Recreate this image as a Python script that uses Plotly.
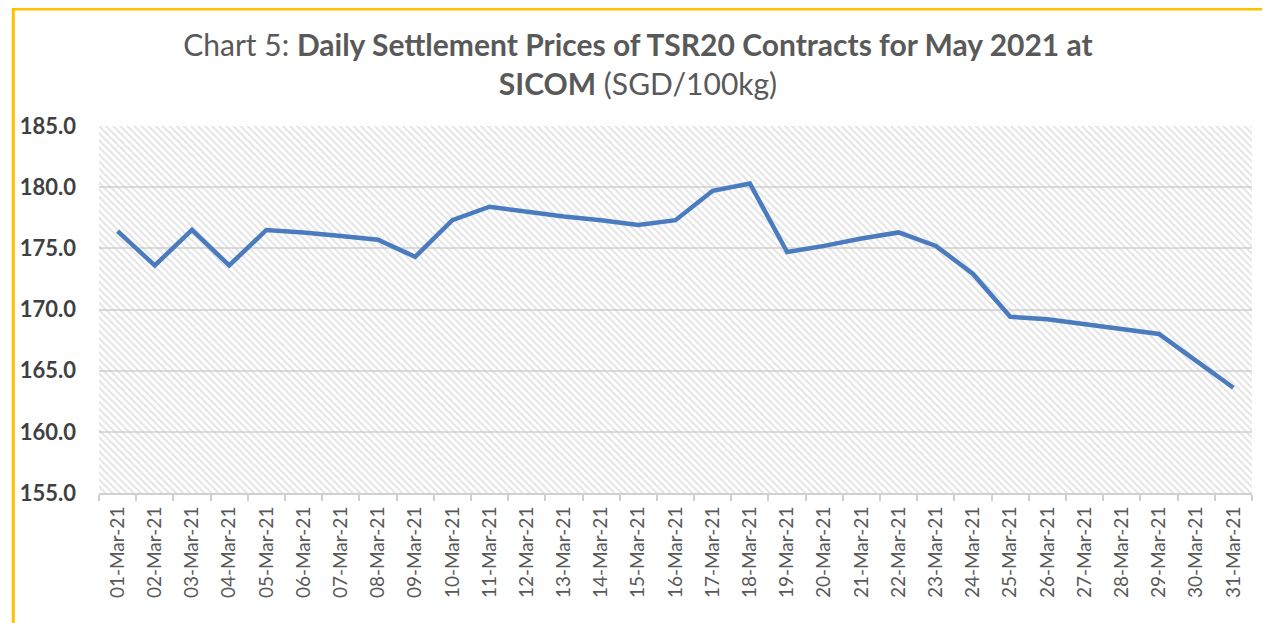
import plotly.graph_objects as go

dates = [f"{d:02d}-Mar-21" for d in range(1, 32)]
prices = [176.4, 173.6, 176.5, 173.6, 176.5, 176.3, 176.0, 175.7, 174.3, 177.3,
          178.4, 178.0, 177.6, 177.3, 176.9, 177.3, 179.7, 180.3, 174.7, 175.2,
          175.8, 176.3, 175.2, 172.9, 169.4, 169.2, 168.8, 168.4, 168.0, 165.8, 163.6]
y_min, y_max, y_step = 155, 185, 5

# page body has an 8px margin: figure is sized/placed to compensate
W, H = 1262, 615
ML, MR, MT, MB = 87, 18, 118, 130
PW, PH = W - ML - MR, H - MT - MB

fig = go.Figure()
# patterned plot-area background
fig.add_trace(go.Bar(
    x=dates, y=[y_max - y_min] * len(dates), base=y_min, width=1,
    marker=dict(color="rgba(0,0,0,0)", line=dict(width=0),
                pattern=dict(shape="\\", fgcolor="#c8c8c8", bgcolor="rgba(0,0,0,0)",
                             size=5, solidity=0.4)),
    hoverinfo="skip", showlegend=False))
fig.add_trace(go.Scatter(
    x=dates, y=prices, mode="lines",
    line=dict(color="#4a7bbf", width=4.5), showlegend=False))

fig.update_layout(
    width=W, height=H,
    margin=dict(l=ML, r=MR, t=MT, b=MB),
    paper_bgcolor="white", plot_bgcolor="white",
    font=dict(family="Lato, Open Sans, sans-serif", color="#595959"),
    title=dict(
        text="Chart 5: <b>Daily Settlement Prices of TSR20 Contracts for May 2021 at</b><br><b>SICOM</b> (SGD/100kg)",
        x=(638 - 8) / W, xanchor="center", y=1 - 48 / H, yanchor="top", yref="container",
        font=dict(size=30, color="#595959", family="Lato, Open Sans, sans-serif")),
    bargap=0,
    shapes=[dict(type="rect", xref="paper", yref="paper",
                 x0=(1 - ML) / PW, x1=(W - 2 - ML) / PW,
                 y0=(H - MB - (H + 10)) / PH, y1=(H - MB - 1) / PH,
                 line=dict(color="#FFC000", width=3), fillcolor="rgba(0,0,0,0)",
                 layer="above")],
)
fig.update_xaxes(
    type="category", range=[-0.5, len(dates) - 0.5],
    showgrid=False, showline=True, linecolor="#d0d0d0", linewidth=2,
    ticks="outside", tickson="boundaries", tickcolor="#d0d0d0", ticklen=6, tickwidth=1.5,
    tickangle=-90, tickfont=dict(size=19, color="#595959"),
    ticklabelstandoff=4)
fig.update_yaxes(
    range=[y_min, y_max], dtick=y_step, tick0=y_min, tickformat=".1f",
    showgrid=True, gridcolor="#dcdcdc", gridwidth=1.5,
    zeroline=False, showline=False, ticks="",
    tickfont=dict(size=22, color="#404040", family="Lato, Open Sans, sans-serif", weight="bold"),
    ticklabelstandoff=22)

fig.write_html("out.html")
